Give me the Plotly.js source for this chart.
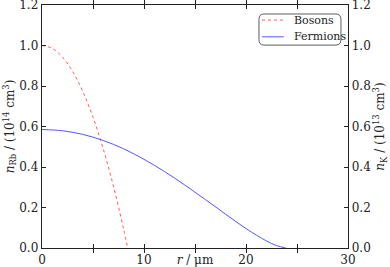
<!DOCTYPE html>
<html><head><meta charset="utf-8">
<script src="https://cdn.plot.ly/plotly-3.0.1.min.js"></script>
<style>html,body{margin:0;padding:0;background:#fff}#c{width:390px;height:267px}</style>
</head><body><div id="c"></div>
<script>
const bosonR = [0, 1, 2, 3, 4, 5, 6, 7, 8, 8.4];
const bosonN = [1.0, 0.986, 0.943, 0.872, 0.773, 0.646, 0.490, 0.306, 0.093, 0.0];
const fermionR = [0, 2, 4, 6, 8, 10, 12, 14, 16, 18, 20, 22, 23, 23.9];
const fermionN = [0.585, 0.579, 0.561, 0.531, 0.490, 0.438, 0.378, 0.311, 0.240, 0.167, 0.096, 0.035, 0.012, 0.0];
const seriesNames = ['Bosons', 'Fermions'];
const seriesColors = ['#ff5a5a', '#5555ff'];
const xTickVals = [0, 5, 10, 15, 20, 25, 30];
const xTickText = ['0', '', '10', '', '20', '', '30'];
const yTickVals = [0, 0.2, 0.4, 0.6, 0.8, 1.0, 1.2];
const yTickText = ['0.0', '0.2', '0.4', '0.6', '0.8', '1.0', '1.2'];

const fam = 'DejaVu Serif';
const font = {family: fam, size: 12, color: '#222'};
const traces = [
  {x: bosonR, y: bosonN, name: seriesNames[0], mode: 'lines', line: {color: seriesColors[0], width: 1, dash: 'dot', shape: 'spline'}},
  {x: fermionR, y: fermionN, name: seriesNames[1], mode: 'lines', yaxis: 'y2', line: {color: seriesColors[1], width: 1, shape: 'spline'}}
];
const common = {range: [0, 1.2], tickvals: yTickVals, ticktext: yTickText, ticks: 'inside', ticklen: 4, tickcolor: '#222', showline: true, linecolor: '#222', linewidth: 1.3, showgrid: false, zeroline: false, tickfont: font, ticklabeloverflow: 'allow'};
const layout = {
  width: 390, height: 267,
  margin: {l: 42, r: 42, t: 5, b: 19},
  paper_bgcolor: '#fff', plot_bgcolor: '#fff',
  font: font,
  showlegend: false,
  xaxis: {range: [0, 30], tickvals: xTickVals, ticktext: xTickText, ticks: 'inside', ticklen: 4, tickcolor: '#222', showline: true, linecolor: '#222', linewidth: 1.3, mirror: 'allticks', showgrid: false, zeroline: false, tickfont: font, ticklabeloverflow: 'allow',
    title: {text: '<i>r</i> / μm', font: font, standoff: 0}},
  yaxis: Object.assign({}, common, {side: 'left', title: {text: '<i>n</i><sub>Rb</sub> / (10<sup>14</sup> cm<sup>3</sup>)', font: font, standoff: 2}}),
  yaxis2: Object.assign({}, common, {side: 'right', overlaying: 'y', title: {text: '<i>n</i><sub>K</sub> / (10<sup>13</sup> cm<sup>3</sup>)', font: font, standoff: 2}}),
  shapes: [
    {type: 'path', xref: 'paper', yref: 'paper', line: {color: '#333', width: 0.8},
     path: 'M 0.725,0.963 L 0.96,0.963 Q 0.977,0.963 0.977,0.94 L 0.977,0.858 Q 0.977,0.835 0.96,0.835 L 0.725,0.835 Q 0.709,0.835 0.709,0.858 L 0.709,0.94 Q 0.709,0.963 0.725,0.963 Z'},
    {type: 'line', xref: 'paper', yref: 'paper', x0: 0.719, x1: 0.79, y0: 0.938, y1: 0.938, line: {color: seriesColors[0], width: 1, dash: 'dot'}},
    {type: 'line', xref: 'paper', yref: 'paper', x0: 0.719, x1: 0.79, y0: 0.869, y1: 0.869, line: {color: seriesColors[1], width: 1}}
  ],
  annotations: [
    {xref: 'paper', yref: 'paper', x: 0.817, y: 0.938, xanchor: 'left', yanchor: 'middle', text: seriesNames[0], showarrow: false, font: {family: fam, size: 11, color: '#222'}},
    {xref: 'paper', yref: 'paper', x: 0.817, y: 0.869, xanchor: 'left', yanchor: 'middle', text: seriesNames[1], showarrow: false, font: {family: fam, size: 11, color: '#222'}}
  ]
};
Plotly.newPlot('c', traces, layout, {staticPlot: true});
</script></body></html>
